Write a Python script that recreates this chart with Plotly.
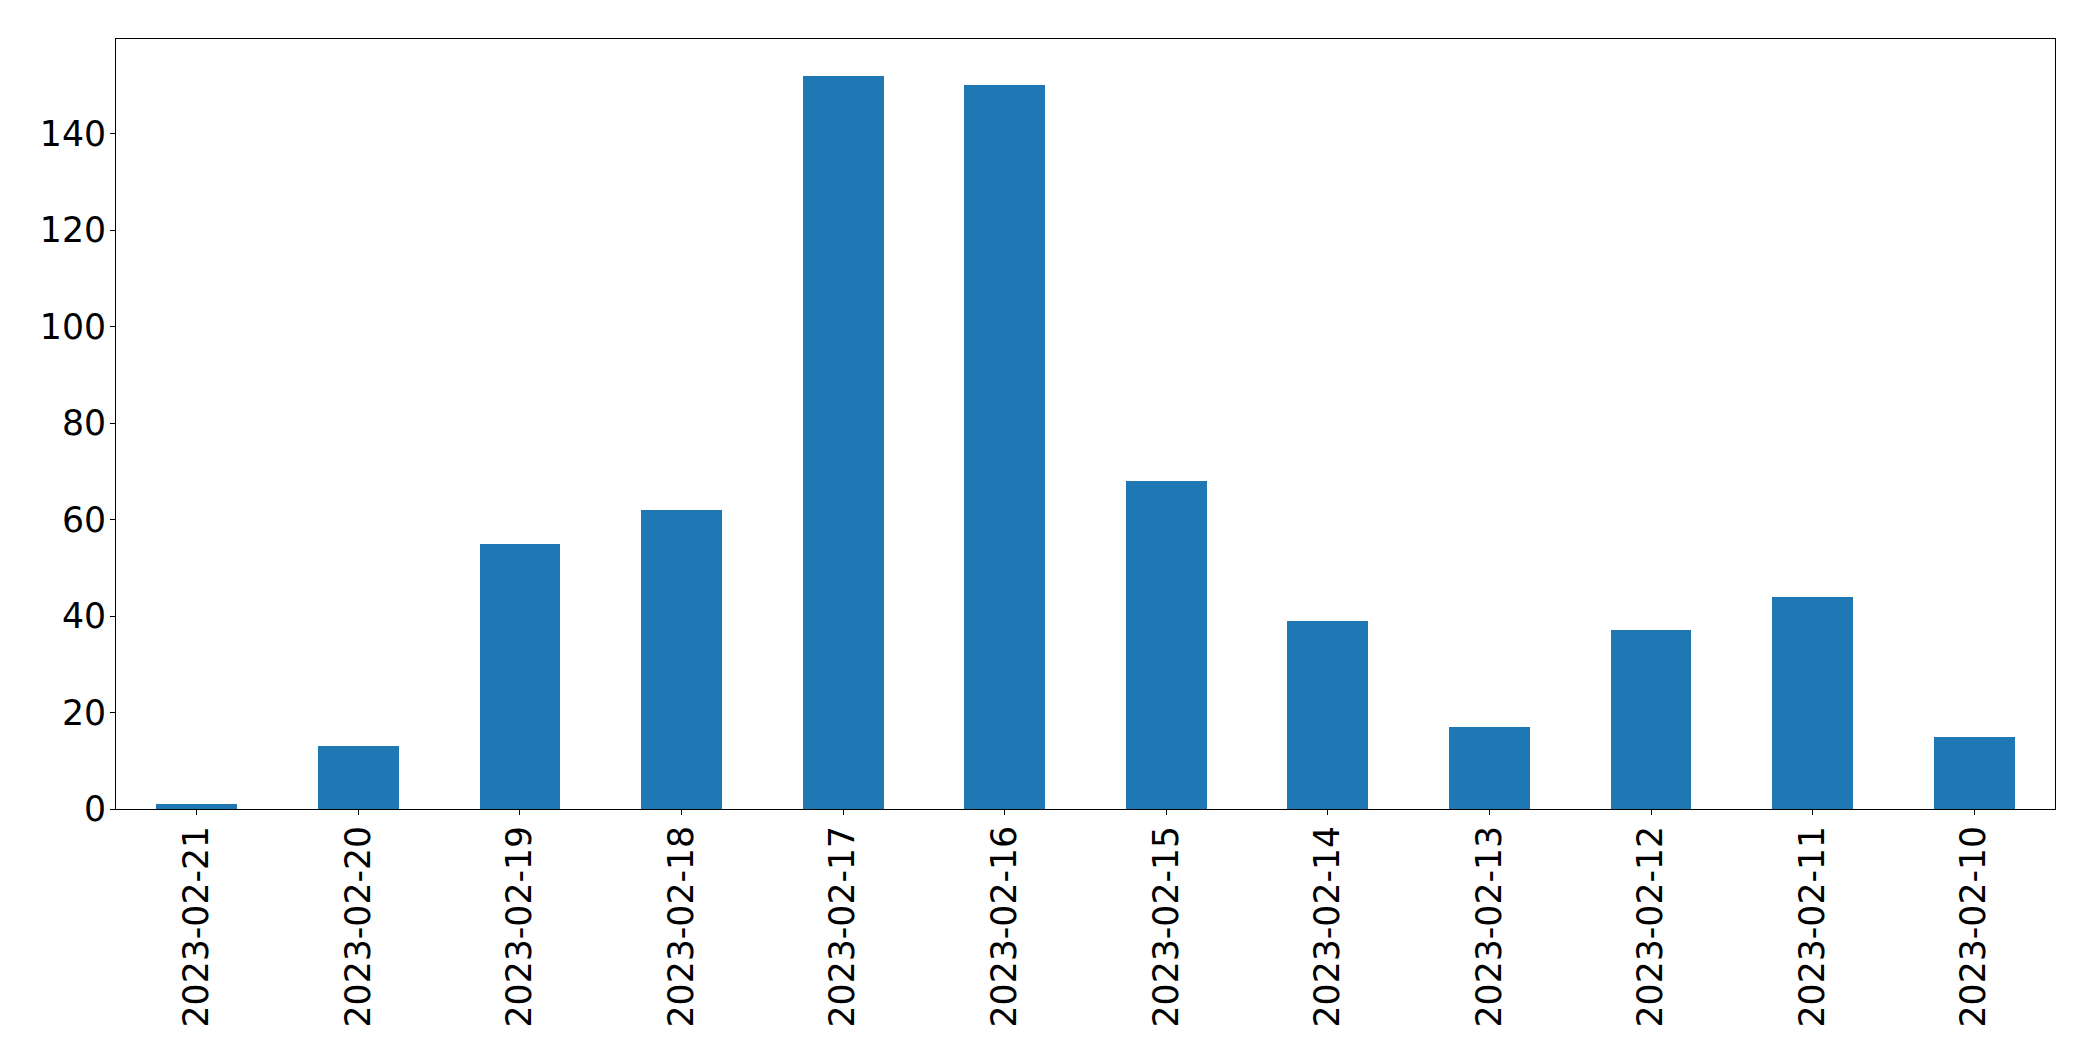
import plotly.graph_objects as go

dates = ["2023-02-21", "2023-02-20", "2023-02-19", "2023-02-18", "2023-02-17", "2023-02-16",
         "2023-02-15", "2023-02-14", "2023-02-13", "2023-02-12", "2023-02-11", "2023-02-10"]
counts = [1, 13, 55, 62, 152, 150, 68, 39, 17, 37, 44, 15]
y_ticks = [0, 20, 40, 60, 80, 100, 120, 140]

fig = go.Figure(go.Bar(x=dates, y=counts, marker=dict(color="#1f77b4", line=dict(width=0)), width=0.5))

fig.update_layout(
    width=2093, height=1061,
    margin=dict(l=116, r=38, t=39, b=252),
    plot_bgcolor="white", paper_bgcolor="white",
    font=dict(family="DejaVu Sans", size=34.7, color="black"),
    showlegend=False,
    bargap=0,
)
fig.update_xaxes(
    type="category", range=[-0.5, len(dates) - 0.5],
    tickangle=-90, ticks="outside", ticklen=5, tickwidth=1, tickcolor="black",
    ticklabelstandoff=-3,
    showline=True, linecolor="black", linewidth=1, mirror=True,
    showgrid=False, zeroline=False,
)
fig.update_yaxes(
    range=[0, max(counts) * 1.05], tickvals=y_ticks,
    ticks="outside", ticklen=5, tickwidth=1, tickcolor="black",
    ticklabelstandoff=-3,
    showline=True, linecolor="black", linewidth=1, mirror=True,
    showgrid=False, zeroline=False,
)

fig.write_html("out.html",
               config={"displayModeBar": False},
               post_script="document.body.style.margin='0';document.body.style.overflow='hidden';")
